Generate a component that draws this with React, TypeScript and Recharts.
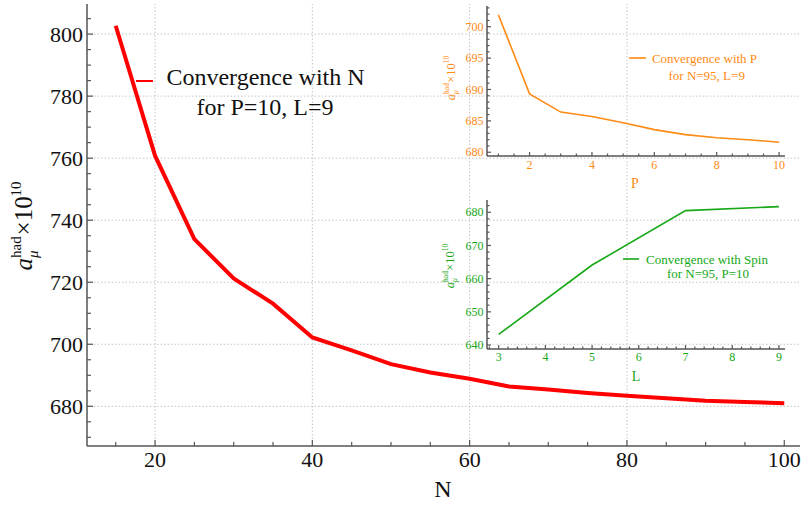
import React from 'react';
import { LineChart, Line, XAxis, YAxis, ReferenceLine } from 'recharts';

// main curve: convergence with N
const nValues = [15, 20, 25, 30, 35, 40, 45, 50, 55, 60, 65, 70, 75, 80, 85, 90, 95, 100];
const nAmu = [802.7, 760.8, 733.9, 721.2, 713.1, 702.2, 698.0, 693.6, 690.9, 688.9, 686.4, 685.4, 684.3, 683.4, 682.6, 681.8, 681.4, 681.0];

// inset 1: convergence with P
const pValues = [1, 2, 3, 4, 5, 6, 7, 8, 9, 10];
const pAmu = [701.9, 689.3, 686.4, 685.7, 684.7, 683.6, 682.8, 682.3, 682.0, 681.6];

// inset 2: convergence with spin L
const lValues = [3, 5, 7, 9];
const lAmu = [643.2, 664.1, 680.5, 681.7];

const MAIN_X_MAJOR = [20, 40, 60, 80, 100];
const MAIN_Y_MAJOR = [680, 700, 720, 740, 760, 780, 800];
const MAIN_X_GRID = [20, 40, 60, 80];
const P_X_MAJOR = [2, 4, 6, 8, 10];
const P_Y_MAJOR = [680, 685, 690, 695, 700];
const L_X_MAJOR = [3, 4, 5, 6, 7, 8, 9];
const L_Y_MAJOR = [640, 650, 660, 670, 680];

const range = (a: number, b: number, step: number) => {
  const out: number[] = [];
  for (let v = a; v <= b + 1e-9; v += step) out.push(Math.round(v * 1000) / 1000);
  return out;
};

const mainData = nValues.map((n, i) => ({ n, v: nAmu[i] }));
const pData = pValues.map((p, i) => ({ p, v: pAmu[i] }));
const lData = lValues.map((l, i) => ({ l, v: lAmu[i] }));

const SERIF = '"Liberation Serif", "Times New Roman", serif';
const FRAME = '#555';
const RED = '#ff0000';
const ORANGE = '#ff8a14';
const GREEN = '#16a816';

type Side = 'bottom' | 'top' | 'left' | 'right';

const makeTick = (
  side: Side,
  majors: number[],
  majorLen: number,
  minorLen: number,
  color: string,
  fontSize: number,
  labelGap: number,
) => (props: any) => {
  const { x, y, payload } = props;
  const v = payload.value;
  const isMajor = majors.some((m) => Math.abs(m - v) < 1e-6);
  const len = isMajor ? majorLen : minorLen;
  let line;
  if (side === 'bottom') line = <line x1={x} x2={x} y1={y} y2={y - len} stroke={FRAME} strokeWidth={1.2} />;
  else if (side === 'top') line = <line x1={x} x2={x} y1={y} y2={y + len} stroke={FRAME} strokeWidth={1.2} />;
  else if (side === 'left') line = <line x1={x} x2={x + len} y1={y} y2={y} stroke={FRAME} strokeWidth={1.2} />;
  else line = <line x1={x} x2={x - len} y1={y} y2={y} stroke={FRAME} strokeWidth={1.2} />;

  let label = null;
  if (isMajor && side === 'bottom') {
    label = (
      <text x={x} y={y + labelGap} textAnchor="middle" fill={color} fontSize={fontSize} fontFamily={SERIF}>
        {v}
      </text>
    );
  } else if (isMajor && side === 'left') {
    label = (
      <text x={x - labelGap} y={y} dy="0.35em" textAnchor="end" fill={color} fontSize={fontSize} fontFamily={SERIF}>
        {v}
      </text>
    );
  }
  return (
    <g>
      {line}
      {label}
    </g>
  );
};

const AmuLabel = ({ x, y, s, color }: { x: number; y: number; s: number; color: string }) => {
  const total = 3.55 * s;
  const x0 = -total / 2;
  return (
    <g transform={`translate(${x},${y}) rotate(-90)`} fill={color} fontFamily={SERIF}>
      <text x={x0} y={0} fontSize={s} fontStyle="italic">a</text>
      <text x={x0 + 0.5 * s} y={-0.45 * s} fontSize={0.6 * s}>had</text>
      <text x={x0 + 0.5 * s} y={0.22 * s} fontSize={0.6 * s} fontStyle="italic">μ</text>
      <text x={x0 + 1.4 * s} y={0} fontSize={s}>×10</text>
      <text x={x0 + 2.96 * s} y={-0.45 * s} fontSize={0.6 * s}>10</text>
    </g>
  );
};

const axisCommon = {
  type: 'number' as const,
  allowDataOverflow: true,
  interval: 0 as const,
  tickSize: 0,
  tickMargin: 0,
  tickLine: false,
  axisLine: { stroke: FRAME, strokeWidth: 1.5 },
};

const MainChart = () => {
  const xDomain: [number, number] = [11.35, 102];
  const yDomain: [number, number] = [667.2, 809.7];
  const xTicks = range(15, 100, 5);
  const yTicks = range(670, 805, 5);
  return (
    <LineChart width={804} height={506} data={mainData} margin={{ top: 4, right: 4, bottom: 0, left: 0 }}>
      <XAxis {...axisCommon} xAxisId="b" dataKey="n" orientation="bottom" height={60} domain={xDomain} ticks={xTicks}
        tick={makeTick('bottom', MAIN_X_MAJOR, 6, 4, '#111', 22, 21)} />
      <XAxis {...axisCommon} xAxisId="t" dataKey="n" orientation="top" height={0} domain={xDomain} ticks={xTicks}
        tick={makeTick('top', MAIN_X_MAJOR, 6, 4, '#111', 22, 0)} />
      <YAxis {...axisCommon} yAxisId="l" orientation="left" width={87} domain={yDomain} ticks={yTicks}
        tick={makeTick('left', MAIN_Y_MAJOR, 6, 4, '#111', 22, 4)} />
      <YAxis {...axisCommon} yAxisId="r" orientation="right" width={0} domain={yDomain} ticks={yTicks}
        tick={makeTick('right', MAIN_Y_MAJOR, 6, 4, '#111', 22, 0)} />
      {MAIN_Y_MAJOR.map((v) => (
        <ReferenceLine key={`gy${v}`} xAxisId="b" yAxisId="l" y={v} stroke="#c4c4c4" strokeDasharray="1.5 2" />
      ))}
      {MAIN_X_GRID.map((v) => (
        <ReferenceLine key={`gx${v}`} xAxisId="b" yAxisId="l" x={v} stroke="#c4c4c4" strokeDasharray="1.5 2" />
      ))}
      <Line xAxisId="b" yAxisId="l" dataKey="v" type="linear" stroke={RED} strokeWidth={4} dot={false} isAnimationActive={false} />
    </LineChart>
  );
};

const PInset = () => {
  const xDomain: [number, number] = [0.635, 10.19];
  const yDomain: [number, number] = [679.4, 703.3];
  const xTicks = range(1, 10, 0.5);
  const yTicks = range(680, 703, 1);
  return (
    <LineChart width={360} height={200} data={pData} margin={{ top: 6, right: 15, bottom: 0, left: 0 }}>
      <XAxis {...axisCommon} xAxisId="b" dataKey="p" orientation="bottom" height={44} domain={xDomain} ticks={xTicks}
        tick={makeTick('bottom', P_X_MAJOR, 4, 2.5, ORANGE, 12, 13)} />
      <XAxis {...axisCommon} xAxisId="t" dataKey="p" orientation="top" height={0} domain={xDomain} ticks={xTicks}
        tick={makeTick('top', P_X_MAJOR, 4, 2.5, ORANGE, 12, 0)} />
      <YAxis {...axisCommon} yAxisId="l" orientation="left" width={47} domain={yDomain} ticks={yTicks}
        tick={makeTick('left', P_Y_MAJOR, 4, 2.5, ORANGE, 12, 3.5)} />
      <YAxis {...axisCommon} yAxisId="r" orientation="right" width={0} domain={yDomain} ticks={yTicks}
        tick={makeTick('right', P_Y_MAJOR, 4, 2.5, ORANGE, 12, 0)} />
      <Line xAxisId="b" yAxisId="l" dataKey="v" type="linear" stroke={ORANGE} strokeWidth={1.6} dot={false} isAnimationActive={false} />
    </LineChart>
  );
};

const LInset = () => {
  const xDomain: [number, number] = [2.75, 9.13];
  const yDomain: [number, number] = [638.8, 683.7];
  const xTicks = range(2.8, 9.0, 0.2);
  const yTicks = range(640, 682, 2);
  return (
    <LineChart width={360} height={200} data={lData} margin={{ top: 10, right: 15, bottom: 0, left: 0 }}>
      <XAxis {...axisCommon} xAxisId="b" dataKey="l" orientation="bottom" height={41} domain={xDomain} ticks={xTicks}
        tick={makeTick('bottom', L_X_MAJOR, 4, 2.5, GREEN, 12, 12)} />
      <XAxis {...axisCommon} xAxisId="t" dataKey="l" orientation="top" height={0} domain={xDomain} ticks={xTicks}
        tick={makeTick('top', L_X_MAJOR, 4, 2.5, GREEN, 12, 0)} />
      <YAxis {...axisCommon} yAxisId="l" orientation="left" width={47} domain={yDomain} ticks={yTicks}
        tick={makeTick('left', L_Y_MAJOR, 4, 2.5, GREEN, 12, 3.5)} />
      <YAxis {...axisCommon} yAxisId="r" orientation="right" width={0} domain={yDomain} ticks={yTicks}
        tick={makeTick('right', L_Y_MAJOR, 4, 2.5, GREEN, 12, 0)} />
      <Line xAxisId="b" yAxisId="l" dataKey="v" type="linear" stroke={GREEN} strokeWidth={1.6} dot={false} isAnimationActive={false} />
    </LineChart>
  );
};

const Overlay = () => (
  <svg width={804} height={506} style={{ position: 'absolute', left: 0, top: 0, pointerEvents: 'none' }} fontFamily={SERIF}>
    {/* main labels + legend */}
    <AmuLabel x={32} y={226} s={25} color="#111" />
    <text x={443} y={497} textAnchor="middle" fontSize={24} fill="#111">N</text>
    <line x1={136} x2={153} y1={81} y2={81} stroke={RED} strokeWidth={2} />
    <text x={265.5} y={85} textAnchor="middle" fontSize={24} fill="#111">Convergence with N</text>
    <text x={265} y={115} textAnchor="middle" fontSize={24} fill="#111">for P=10, L=9</text>

    {/* P inset */}
    <AmuLabel x={455} y={78} s={12.5} color={ORANGE} />
    <text x={635} y={188} textAnchor="middle" fontSize={14} fill={ORANGE}>P</text>
    <line x1={629} x2={646} y1={58} y2={58} stroke={ORANGE} strokeWidth={1.6} />
    <text x={704.5} y={62.5} textAnchor="middle" fontSize={13} fill={ORANGE}>Convergence with P</text>
    <text x={706.7} y={80} textAnchor="middle" fontSize={13} fill={ORANGE}>for N=95, L=9</text>

    {/* L inset */}
    <AmuLabel x={454} y={266} s={12.5} color={GREEN} />
    <text x={636} y={381} textAnchor="middle" fontSize={14} fill={GREEN}>L</text>
    <line x1={623} x2={639} y1={259} y2={259} stroke={GREEN} strokeWidth={1.6} />
    <text x={707} y={263.5} textAnchor="middle" fontSize={13} fill={GREEN}>Convergence with Spin</text>
    <text x={708} y={277.5} textAnchor="middle" fontSize={13} fill={GREEN}>for N=95, P=10</text>
  </svg>
);

export default function App() {
  return (
    <div style={{ position: 'absolute', left: 0, top: 0, width: 804, height: 506, background: '#fff', fontFamily: SERIF }}>
      <MainChart />
      <div style={{ position: 'absolute', left: 440, top: 0 }}>
        <PInset />
      </div>
      <div style={{ position: 'absolute', left: 440, top: 190 }}>
        <LInset />
      </div>
      <Overlay />
    </div>
  );
}
